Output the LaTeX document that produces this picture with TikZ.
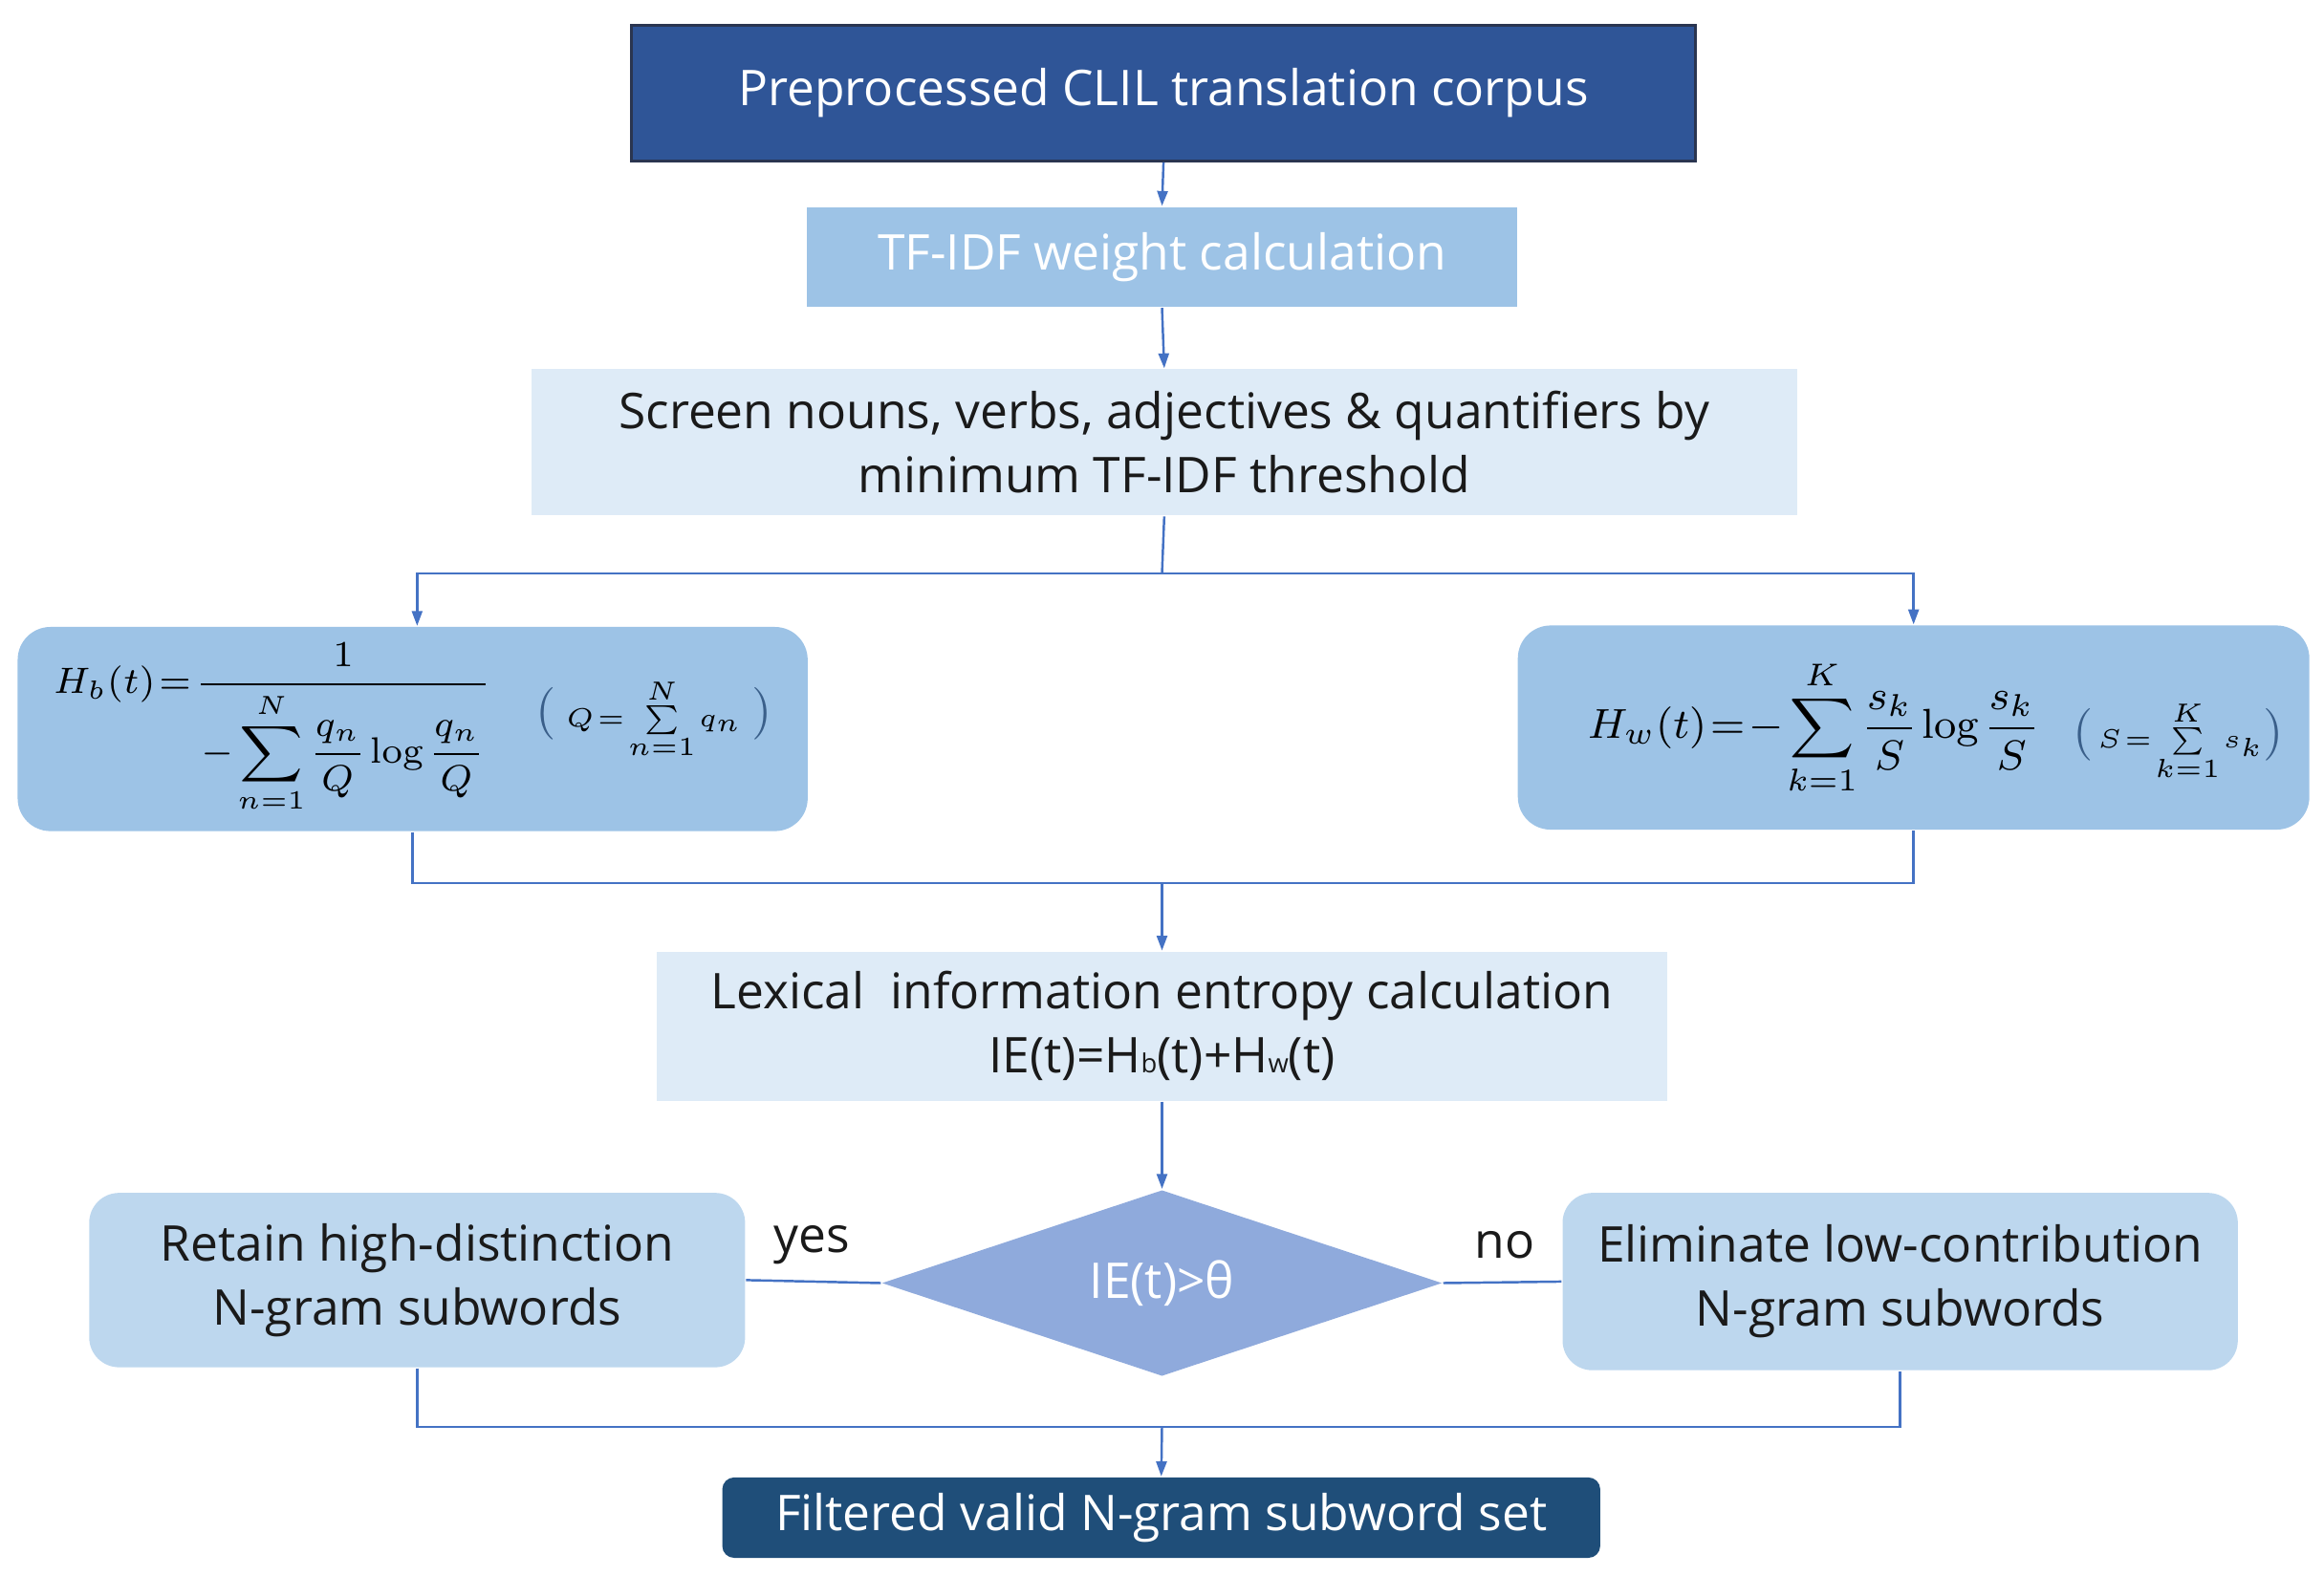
\documentclass[tikz,border=0pt]{standalone}
\usepackage[no-math]{fontspec}
\setmainfont{Open Sans}
\usepackage{amsmath}
\usetikzlibrary{shapes.geometric,arrows.meta}
\definecolor{topc}{HTML}{2F5597}
\definecolor{topb}{HTML}{2A3550}
\definecolor{midc}{HTML}{9DC3E6}
\definecolor{palec}{HTML}{DEEBF7}
\definecolor{lightc}{HTML}{BDD7EE}
\definecolor{diac}{HTML}{8FAADC}
\definecolor{finc}{HTML}{1F4E79}
\definecolor{linec}{HTML}{4472C4}
\definecolor{parc}{HTML}{3A5F8A}
\definecolor{txt}{HTML}{1A1A1A}
\newcommand{\tightmath}{\thickmuskip=1.5mu plus 1mu\medmuskip=1mu\thinmuskip=1.5mu}
\newcommand{\bigpar}[1]{{\fontsize{9.8}{10}\selectfont\color{parc}$\mathord{#1}$}}
\begin{document}
\begin{tikzpicture}[x=0.01cm,y=-0.01cm,
  base/.style={inner sep=0pt, align=center, font=\fontsize{9.4}{12.2}\selectfont},
  topbox/.style={base, fill=topc, draw=topb, line width=0.6pt, text=white},
  midbox/.style={base, fill=midc, text=white},
  palebox/.style={base, fill=palec, text=txt},
  formbox/.style={base, fill=midc, rounded corners=0.22cm, text=black},
  lightbox/.style={base, fill=lightc, rounded corners=0.2cm, text=txt},
  diabox/.style={base, diamond, fill=diac, text=white, aspect=3, minimum width=3.76cm, minimum height=1.25cm},
  finbox/.style={base, fill=finc, rounded corners=0.08cm, text=white},
  conn/.style={draw=linec, line width=0.45pt},
  arr/.style={conn, -{Triangle[length=0.1cm,width=0.07cm]}},
  lab/.style={base, text=txt}
]
\useasboundingbox (0,0) rectangle (1560,1058);

\node[topbox, minimum width=7.14cm, minimum height=0.91cm] (top) at (781,62.5) {Preprocessed CLIL translation corpus};
\node[midbox, minimum width=4.76cm, minimum height=0.67cm] (tfidf) at (780,172.5) {TF-IDF weight calculation};
\node[palebox, minimum width=8.49cm, minimum height=0.98cm] (screen) at (781.5,297) {Screen nouns, verbs, adjectives \& quantifiers by\\minimum TF-IDF threshold};

\node[formbox, minimum width=5.30cm, minimum height=1.37cm] (hb) at (277,489.5)
 {{\fontsize{7.5}{9}\selectfont\tightmath$\displaystyle H_b(t)=\frac{1}{\displaystyle -\sum_{n=1}^{N}\frac{q_n}{Q}\log\frac{q_n}{Q}}$}\hspace{0.3cm}\raisebox{-0.22cm}{\fontsize{5.5}{6.5}\selectfont\tightmath\bigpar{(}\,\,$Q=\sum\limits_{n=1}^{N}q_n$\,\,\bigpar{)}}};

\node[formbox, minimum width=5.31cm, minimum height=1.37cm] (hw) at (1284.5,488.5)
 {\hspace*{0.3cm}{\fontsize{8}{9.5}\selectfont\tightmath$\displaystyle H_w(t)=-\sum_{k=1}^{K}\frac{s_k}{S}\log\frac{s_k}{S}$}\hspace{0.22cm}\raisebox{-0.06cm}{\fontsize{5.2}{6.5}\selectfont\tightmath\bigpar{(}\,$S=\sum\limits_{k=1}^{K}s_k$\bigpar{)}}};

\node[palebox, minimum width=6.78cm, minimum height=1.00cm] (lex) at (780,689) {Lexical\ \ information entropy calculation\\IE(t)=H{\fontsize{5}{6}\selectfont b}(t)+H{\fontsize{5}{6}\selectfont w}(t)};
\node[diabox] (dia) at (780,861.5) {IE(t)>θ};
\node[lightbox, minimum width=4.40cm, minimum height=1.17cm] (retain) at (280,859.5) {Retain high-distinction\\N-gram subwords};
\node[lightbox, minimum width=4.53cm, minimum height=1.19cm] (elim) at (1275.5,860.5) {Eliminate low-contribution\\N-gram subwords};
\node[finbox, minimum width=5.89cm, minimum height=0.54cm] (final) at (779.5,1019) {Filtered valid N-gram subword set};

\coordinate (s1) at (780,385);
\coordinate (m1) at (780,593);
\coordinate (m2) at (780,958);

\draw[arr] (top.south) -- (tfidf.north);
\draw[arr] (tfidf.south) -- (screen.north);
\draw[conn] (screen.south) -- (s1);
\draw[arr] (s1) -| ([xshift=0.03cm]hb.north);
\draw[arr] (s1) -| (hw.north);
\draw[conn] (hb.south) |- (m1);
\draw[conn] (hw.south) |- (m1);
\draw[arr] (m1) -- (lex.north);
\draw[arr] (lex.south) -- (dia.north);
\draw[conn] (dia.west) -- (retain.east);
\draw[conn] (dia.east) -- (elim.west);
\draw[conn] (retain.south) |- (m2);
\draw[conn] (elim.south) |- (m2);
\draw[arr] (m2) -- (final.north);

\node[lab] (yes) at (545,836) {yes};
\node[lab] (no) at (1010,836) {no};
\end{tikzpicture}
\end{document}
